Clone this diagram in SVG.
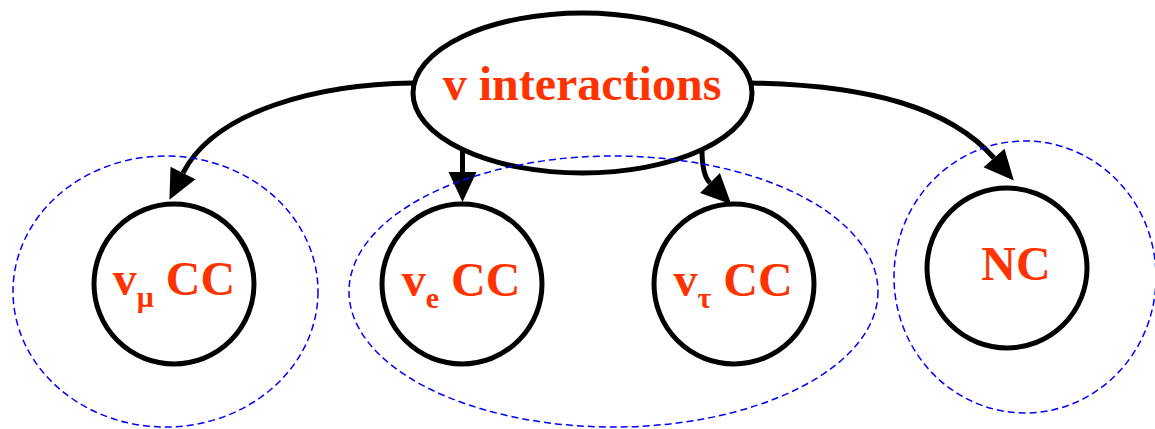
<svg xmlns="http://www.w3.org/2000/svg" width="1155" height="429" viewBox="0 0 1155 429">
<style>
.node{fill:#fff;stroke:#000;stroke-width:5}
.lbl{font-family:"Liberation Serif","Times New Roman",serif;font-weight:bold;font-size:48px;fill:#ff3300;text-anchor:middle}
.sub{font-size:30px}
.edge{fill:none;stroke:#000;stroke-width:5}
.grp{fill:none;stroke:#0000ff;stroke-width:1.5;stroke-dasharray:7 4}
</style>
<defs>
<marker id="arr" markerUnits="userSpaceOnUse" markerWidth="30" markerHeight="28" viewBox="0 0 30 28" refX="0" refY="14" orient="auto" overflow="visible">
<path d="M0,0 L30,14 L0,28 Z" fill="#000"/>
</marker>
</defs>
<rect width="1155" height="429" fill="#fff"/>
<g id="connectors">
<path class="edge" d="M413,83 C320,84 215,110 183,173" marker-end="url(#arr)"/>
<path class="edge" d="M462.5,150 L462.5,172" marker-end="url(#arr)"/>
<path class="edge" d="M702,150 C702,166 704,177 710,183" marker-end="url(#arr)"/>
<path class="edge" d="M750,83 C870,85 950,108 994,158" marker-end="url(#arr)"/>
</g>
<g id="interactions">
<ellipse class="node" cx="582.5" cy="93" rx="169.5" ry="80"/>
<text class="lbl" x="582" y="100">v interactions</text>
</g>
<g id="numu_cc">
<circle class="node" cx="174" cy="284" r="80"/>
<text class="lbl" x="174" y="295">v<tspan class="sub" dy="12">μ</tspan><tspan dy="-12"> CC</tspan></text>
</g>
<g id="nue_cc">
<circle class="node" cx="462" cy="284" r="80"/>
<text class="lbl" x="461" y="296">v<tspan class="sub" dy="12">e</tspan><tspan dy="-12"> CC</tspan></text>
</g>
<g id="nutau_cc">
<circle class="node" cx="734" cy="284" r="80"/>
<text class="lbl" x="733" y="296">v<tspan class="sub" dy="12">τ</tspan><tspan dy="-12"> CC</tspan></text>
</g>
<g id="nc">
<circle class="node" cx="1007" cy="268" r="80"/>
<text class="lbl" x="1016" y="280">NC</text>
</g>
<g id="group_numu">
<ellipse class="grp" cx="165.5" cy="291.5" rx="152.5" ry="135.5"/>
</g>
<g id="group_e_tau">
<ellipse class="grp" cx="613.5" cy="291.5" rx="264.5" ry="135.5"/>
</g>
<g id="group_nc">
<ellipse class="grp" cx="1025" cy="277" rx="131" ry="136"/>
</g>
</svg>
